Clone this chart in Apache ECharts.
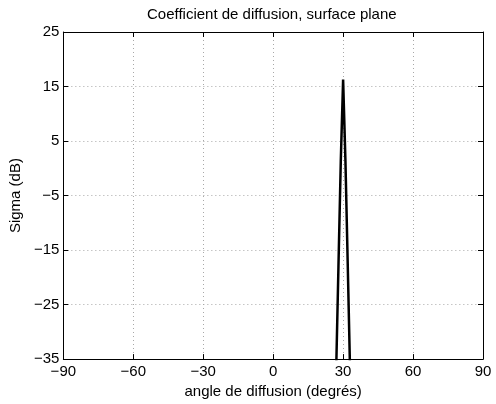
<!DOCTYPE html>
<html>
<head>
<meta charset="utf-8">
<script src="https://cdn.jsdelivr.net/npm/echarts@6/dist/echarts.min.js"></script>
<style>
  html, body { margin: 0; padding: 0; background: #fff; }
  #chart { width: 496px; height: 404px; }
</style>
</head>
<body>
<div id="chart"></div>
<script>
// Data
const titleText = 'Coefficient de diffusion, surface plane';
const xName = 'angle de diffusion (degrés)';
const yName = 'Sigma (dB)';
const angles = [25, 26, 27, 28, 29, 30, 31, 32, 33, 34, 35];
const sigma = [-80, -58, -37.5, -18, 1.3, 16.3, 1.3, -18, -37.5, -58, -80];
const xTicks = [-90, -60, -30, 0, 30, 60, 90];
const yTicks = [-35, -25, -15, -5, 5, 15, 25];

const FONT = 'Liberation Sans, Arial, Helvetica, sans-serif';
const fmt = v => (v < 0 ? '\u2212' + Math.abs(v) : String(v));

const chart = echarts.init(document.getElementById('chart'), null, { renderer: 'canvas' });
const gridLine = { show: true, lineStyle: { color: '#a8a8a8', type: [1, 3], width: 1 } };
const axisLine = { show: true, onZero: false, lineStyle: { color: '#000', width: 1 } };
const tick = { show: true, inside: true, length: 5, lineStyle: { color: '#000', width: 1 } };

chart.setOption({
  animation: false,
  backgroundColor: '#fff',
  title: {
    text: titleText,
    left: 142,
    top: 2,
    textStyle: { fontFamily: FONT, fontSize: 15, fontWeight: 'normal', color: '#000' }
  },
  grid: { left: 61, right: 13, top: 32, bottom: 39, containLabel: false },
  xAxis: [{
    type: 'value', min: xTicks[0], max: xTicks[xTicks.length - 1], interval: 30,
    position: 'bottom',
    name: xName, nameLocation: 'middle', nameGap: 22,
    nameTextStyle: { fontFamily: FONT, fontSize: 15, color: '#000' },
    axisLine, axisTick: tick,
    axisLabel: { fontFamily: FONT, fontSize: 15, color: '#000', margin: 5, formatter: fmt },
    splitLine: gridLine
  }, {
    type: 'value', min: xTicks[0], max: xTicks[xTicks.length - 1], interval: 30,
    position: 'top',
    axisLine, axisTick: tick, axisLabel: { show: false }, splitLine: { show: false }
  }],
  yAxis: [{
    type: 'value', min: yTicks[0], max: yTicks[yTicks.length - 1], interval: 10,
    position: 'left',
    name: yName, nameLocation: 'middle', nameGap: 28,
    nameTextStyle: { fontFamily: FONT, fontSize: 15, color: '#000' },
    axisLine, axisTick: tick,
    axisLabel: { fontFamily: FONT, fontSize: 15, color: '#000', margin: 4, formatter: fmt },
    splitLine: gridLine
  }, {
    type: 'value', min: yTicks[0], max: yTicks[yTicks.length - 1], interval: 10,
    position: 'right',
    axisLine, axisTick: tick, axisLabel: { show: false }, splitLine: { show: false }
  }],
  series: [{
    type: 'line',
    xAxisIndex: 0, yAxisIndex: 0,
    data: angles.map((a, i) => [a, sigma[i]]),
    showSymbol: false, symbol: 'none',
    clip: true,
    lineStyle: { color: '#000', width: 2.5 }
  }]
});
</script>
</body>
</html>
